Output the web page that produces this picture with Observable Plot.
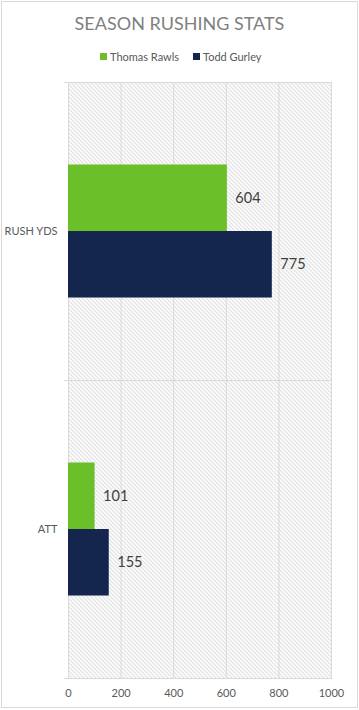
<!DOCTYPE html>
<html><head><meta charset="utf-8">
<script src="https://cdn.jsdelivr.net/npm/d3@7"></script>
<script src="https://cdn.jsdelivr.net/npm/@observablehq/plot@0.6"></script>
<style>
body{margin:0;background:#fff;}
#wrap{position:relative;width:359px;height:710px;font-family:Lato,sans-serif;overflow:hidden;}
#wrap > svg{position:absolute;left:0;top:0;}
#border{position:absolute;left:1px;top:1px;width:355px;height:705px;border:1px solid #d9d9d9;pointer-events:none;}
</style>
</head><body>
<svg width="0" height="0" style="position:absolute">
  <defs>
    <pattern id="hatch" patternUnits="userSpaceOnUse" width="4" height="4">
      <path d="M-1,-1L5,5M-1,3L1,5M3,-1L5,1" stroke="#c9c9c9" stroke-width="1" fill="none"/>
    </pattern>
  </defs>
</svg>
<div id="wrap"></div>
<script>
const categories = ["RUSH YDS", "ATT"];
const series = ["Thomas Rawls", "Todd Gurley"];
const rawls = [604, 101];
const gurley = [775, 155];
const xTicks = [0, 200, 400, 600, 800, 1000];
const colors = ["#6bbf29", "#14264e"];
const title = "SEASON RUSHING STATS";

const data = categories.flatMap((c, i) => [
  {category: c, series: series[0], value: rawls[i]},
  {category: c, series: series[1], value: gurley[i]}
]);

const chart = Plot.plot({
  width: 359, height: 710,
  marginTop: 82, marginBottom: 32, marginLeft: 68, marginRight: 28,
  style: {fontFamily: "Lato, sans-serif", fontSize: "11px", color: "#595959", background: "transparent"},
  x: {domain: [0, 1000], ticks: xTicks, tickSize: 0, tickPadding: 11, label: null, tickFormat: d => String(d)},
  y: {domain: series, axis: null, paddingInner: 0, paddingOuter: 1.24, round: false},
  fy: {domain: categories, padding: 0, label: null, axis: "left", tickSize: 0, tickPadding: 11},
  color: {domain: series, range: colors},
  marks: [
    Plot.frame({fill: "url(#hatch)", stroke: null}),
    Plot.gridX(xTicks, {stroke: "#d9d9d9", strokeOpacity: 1}),
    Plot.frame({stroke: "#d9d9d9", strokeOpacity: 1}),
    Plot.frame({anchor: "top", insetLeft: -4, stroke: "#d9d9d9", strokeOpacity: 1}),
    Plot.frame({anchor: "bottom", insetLeft: -4, stroke: "#d9d9d9", strokeOpacity: 1}),
    Plot.barX(data, {fy: "category", y: "series", x: "value", fill: "series"}),
    Plot.text(data, {fy: "category", y: "series", x: "value", text: d => String(d.value),
      dx: 8, textAnchor: "start", fill: "#404040", fontSize: 14.5})
  ]
});
const wrap = document.getElementById("wrap");
wrap.appendChild(chart);

const ns = "http://www.w3.org/2000/svg";
const ov = document.createElementNS(ns, "svg");
ov.setAttribute("width", 359); ov.setAttribute("height", 80);
ov.style.fontFamily = "Lato, sans-serif";
function t(x, y, s, size, fill, anchor) {
  const e = document.createElementNS(ns, "text");
  e.setAttribute("x", x); e.setAttribute("y", y);
  e.setAttribute("font-size", size); e.setAttribute("fill", fill);
  e.setAttribute("text-anchor", anchor || "start");
  e.textContent = s; ov.appendChild(e);
}
function r(x, y, w, h, fill) {
  const e = document.createElementNS(ns, "rect");
  e.setAttribute("x", x); e.setAttribute("y", y); e.setAttribute("width", w); e.setAttribute("height", h);
  e.setAttribute("fill", fill); ov.appendChild(e);
}
t(179.5, 30, title, 18, "#7f7f7f", "middle");
r(100, 53, 7, 7, colors[0]); t(110, 60.5, series[0], 11, "#595959");
r(193, 53, 7, 7, colors[1]); t(203, 60.5, series[1], 11, "#595959");
wrap.appendChild(ov);
const b = document.createElement("div"); b.id = "border"; wrap.appendChild(b);
</script>
</body></html>
